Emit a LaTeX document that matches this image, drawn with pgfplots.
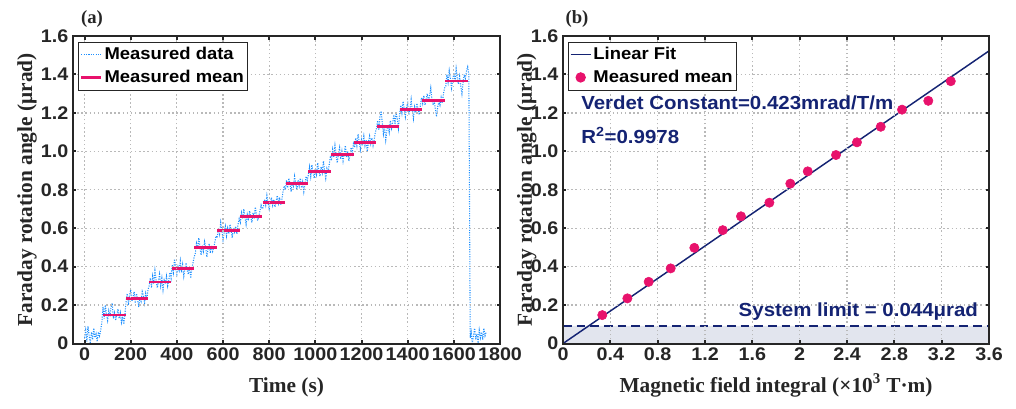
\documentclass[border=0pt]{standalone}
\usepackage{pgfplots}
\pgfplotsset{compat=1.18}
\usepackage{fontspec}
\setmainfont{Liberation Serif}
\newfontfamily\arial[FakeStretch=1.08]{Liberation Sans}

\definecolor{axgray}{RGB}{38,38,38}
\definecolor{gridgray}{RGB}{185,185,185}
\definecolor{datablue}{RGB}{30,144,255}
\definecolor{meanpink}{RGB}{232,18,108}
\definecolor{navy}{RGB}{20,35,115}
\definecolor{shade}{RGB}{226,229,238}

\pgfplotsset{
  panel/.style={
    scale only axis, width=320.25pt, height=230.6pt,
    anchor=south west, axis on top,
    axis line style={axgray, line width=1.5pt},
    tick style={axgray, line width=1.5pt},
    major tick length=2.6pt, tick align=inside,
    grid=major,
    major grid style={gridgray, line width=0.9pt, dash pattern=on 1.1pt off 2pt},
    tick label style={font=\arial\bfseries\fontsize{13.7}{14}\selectfont, text=axgray},
    label style={font=\bfseries\fontsize{16}{18}\selectfont, text=axgray},
    ymin=0, ymax=1.6,
    ytick={0,0.2,0.4,0.6,0.8,1.0,1.2,1.4,1.6},
    yticklabels={0,0.2,0.4,0.6,0.8,1.0,1.2,1.4,1.6},
    ylabel={Faraday rotation angle (μrad)},
    legend cell align=left,
    legend image code/.code={\draw[mark repeat=2,mark phase=2,##1] plot coordinates {(0pt,0pt) (7.5pt,0pt) (15pt,0pt)};},
    legend style={at={(0.012,0.982)}, anchor=north west, draw=axgray, line width=0.75pt,
      font=\arial\bfseries\fontsize{12.8}{13}\selectfont, inner xsep=1pt, inner ysep=1pt,
      nodes={inner xsep=1.5pt, inner ysep=2.5pt, text height=9.5pt, text depth=2.5pt}},
  }
}

\begin{document}
\begin{tikzpicture}
\useasboundingbox (0pt,0pt) rectangle (762pt,306.75pt);

% (a) measured data over time
\begin{axis}[panel, at={(54.75pt,49.1pt)},
  xmin=-50, xmax=1800,
  xtick={0,200,400,600,800,1000,1200,1400,1600,1800},
  xticklabels={0,200,400,600,800,1000,1200,1400,1600,1800},
  xlabel={Time (s)},
  xlabel style={at={(axis description cs:0.5,-0.158)}, anchor=base},
  ylabel style={at={(axis description cs:-0.096,0.5)}, anchor=base},
]
\addplot[datablue, line width=0.8pt, densely dotted] coordinates {
(0,0.03)(5,0.07)(10,0.01)(15,0.09)(20,0.04)(25,0.00)(30,0.06)(35,0.02)(40,0.08)(45,0.03)
(50,0.05)(55,0.01)(60,0.06)(65,0.04)(70,0.07)(75,0.11)
(80,0.19)(85,0.13)(90,0.20)(95,0.15)(100,0.12)(105,0.17)(110,0.14)(115,0.19)(120,0.21)(125,0.13)
(130,0.16)(135,0.12)(140,0.15)(145,0.18)(150,0.13)(155,0.16)(160,0.11)(165,0.14)(170,0.10)(175,0.15)
(180,0.22)(185,0.26)(190,0.20)(195,0.25)(200,0.28)(205,0.22)(210,0.24)(215,0.27)(220,0.21)(225,0.26)
(230,0.23)(235,0.19)(240,0.24)(245,0.22)(250,0.27)(255,0.25)(260,0.21)(265,0.26)(270,0.23)(275,0.28)
(280,0.30)(285,0.34)(290,0.29)(295,0.35)(300,0.31)(305,0.38)(310,0.33)(315,0.29)(320,0.32)(325,0.36)
(330,0.30)(335,0.34)(340,0.28)(345,0.33)(350,0.31)(355,0.35)(360,0.30)(365,0.33)(370,0.37)(375,0.34)
(380,0.41)(385,0.37)(390,0.44)(395,0.39)(400,0.36)(405,0.40)(410,0.38)(415,0.43)(420,0.37)(425,0.41)
(430,0.35)(435,0.39)(440,0.42)(445,0.38)(450,0.36)(455,0.40)(460,0.34)(465,0.39)(470,0.42)(475,0.45)
(480,0.47)(485,0.52)(490,0.49)(495,0.55)(500,0.50)(505,0.46)(510,0.51)(515,0.48)(520,0.53)(525,0.50)
(530,0.45)(535,0.49)(540,0.52)(545,0.47)(550,0.51)(555,0.48)(560,0.50)(565,0.53)(570,0.56)
(575,0.55)(580,0.60)(585,0.57)(590,0.63)(595,0.59)(600,0.54)(605,0.58)(610,0.61)(615,0.56)(620,0.60)
(625,0.57)(630,0.62)(635,0.59)(640,0.55)(645,0.60)(650,0.58)(655,0.61)(660,0.57)(665,0.62)(670,0.65)
(675,0.63)(680,0.68)(685,0.65)(690,0.70)(695,0.66)(700,0.62)(705,0.67)(710,0.64)(715,0.69)(720,0.66)
(725,0.63)(730,0.68)(735,0.65)(740,0.71)(745,0.67)(750,0.64)(755,0.66)(760,0.69)(765,0.72)(770,0.70)
(775,0.71)(780,0.75)(785,0.72)(790,0.77)(795,0.73)(800,0.70)(805,0.74)(810,0.76)(815,0.72)(820,0.75)
(825,0.71)(830,0.74)(835,0.77)(840,0.73)(845,0.76)(850,0.72)(855,0.75)(860,0.79)(865,0.82)
(870,0.80)(875,0.85)(880,0.81)(885,0.86)(890,0.83)(895,0.79)(900,0.84)(905,0.82)(910,0.87)(915,0.83)
(920,0.80)(925,0.85)(930,0.82)(935,0.86)(940,0.81)(945,0.84)(950,0.79)(955,0.83)(960,0.87)(965,0.85)
(970,0.88)(975,0.92)(980,0.87)(985,0.93)(990,0.89)(995,0.86)(1000,0.91)(1005,0.88)(1010,0.94)(1015,0.90)
(1020,0.87)(1025,0.92)(1030,0.89)(1035,0.95)(1040,0.90)(1045,0.86)(1050,0.91)(1055,0.89)(1060,0.93)(1065,0.97)
(1070,0.96)(1075,1.01)(1080,0.97)(1085,1.03)(1090,0.98)(1095,0.94)(1100,0.99)(1105,1.02)(1110,0.96)(1115,1.00)
(1120,0.95)(1125,0.99)(1130,1.03)(1135,0.97)(1140,1.00)(1145,0.95)(1150,0.98)(1155,1.02)(1160,0.99)(1165,1.04)
(1170,1.02)(1175,1.07)(1180,1.03)(1185,1.09)(1190,1.05)(1195,1.01)(1200,1.06)(1205,1.04)(1210,1.08)(1215,1.03)
(1220,1.06)(1225,1.00)(1230,1.05)(1235,1.08)(1240,1.04)(1245,1.07)(1250,1.03)(1255,1.06)(1260,1.10)
(1265,1.12)(1270,1.16)(1275,1.11)(1280,1.18)(1285,1.21)(1290,1.15)(1295,1.09)(1300,1.13)(1305,1.06)(1310,1.11)
(1315,1.14)(1320,1.10)(1325,1.16)(1330,1.12)(1335,1.15)(1340,1.19)(1345,1.14)(1350,1.20)(1355,1.17)(1360,1.12)
(1365,1.19)(1370,1.24)(1375,1.20)(1380,1.26)(1385,1.22)(1390,1.18)(1395,1.23)(1400,1.25)(1405,1.19)(1410,1.22)
(1415,1.27)(1420,1.21)(1425,1.17)(1430,1.23)(1435,1.20)(1440,1.25)(1445,1.22)(1450,1.19)(1455,1.24)(1460,1.28)
(1465,1.25)(1470,1.29)(1475,1.24)(1480,1.27)(1485,1.30)(1490,1.26)(1495,1.29)(1500,1.33)(1505,1.27)(1510,1.24)
(1515,1.26)(1520,1.22)(1525,1.18)(1530,1.23)(1535,1.26)(1540,1.24)(1545,1.28)(1550,1.25)(1555,1.30)(1560,1.33)
(1565,1.34)(1570,1.40)(1575,1.36)(1580,1.42)(1585,1.38)(1590,1.33)(1595,1.37)(1600,1.41)(1605,1.36)(1610,1.43)
(1615,1.38)(1620,1.35)(1625,1.39)(1630,1.34)(1635,1.30)(1640,1.36)(1645,1.40)(1650,1.38)(1655,1.42)(1660,1.44)
(1665,1.40)(1671,0.03)(1675,0.06)(1680,0.00)(1685,0.04)(1690,0.08)(1695,0.02)(1700,0.05)(1705,0.01)(1710,0.07)
(1715,0.03)(1720,0.06)(1725,0.02)(1730,0.08)(1735,0.04)(1740,0.06)
};
\addlegendentry{Measured data}
\addplot[meanpink, line width=2pt, unbounded coords=jump] coordinates {
(81,0.148)(179,0.148)(179,nan)
(180,0.235)(277,0.235)(277,nan)
(279,0.321)(375,0.321)(375,nan)
(377,0.389)(474,0.389)(474,nan)
(476,0.498)(573,0.498)(573,nan)
(575,0.588)(672,0.588)(672,nan)
(673,0.662)(770,0.662)(770,nan)
(772,0.733)(868,0.733)(868,nan)
(871,0.832)(968,0.832)(968,nan)
(970,0.896)(1066,0.896)(1066,nan)
(1069,0.983)(1166,0.983)(1166,nan)
(1168,1.047)(1264,1.047)(1264,nan)
(1267,1.130)(1363,1.130)(1363,nan)
(1366,1.217)(1461,1.217)(1461,nan)
(1464,1.263)(1560,1.263)(1560,nan)
(1563,1.367)(1660,1.367)
};
\addlegendentry{Measured mean}
\end{axis}

% (b) angle against field integral
\begin{axis}[panel, at={(422.25pt,49.1pt)}, width=319.5pt,
  xmin=0, xmax=3.6,
  xtick={0,0.4,0.8,1.2,1.6,2,2.4,2.8,3.2,3.6},
  xticklabels={0,0.4,0.8,1.2,1.6,2,2.4,2.8,3.2,3.6},
  xlabel={Magnetic field integral (×10\textsuperscript{3} T·m)},
  xlabel style={at={(axis description cs:0.5,-0.158)}, anchor=base},
  ylabel style={at={(axis description cs:-0.073,0.5)}, anchor=base},
  legend style={at={(0.012,0.982)}},
]
\addplot[fill=shade, draw=none, forget plot] coordinates {(0,0) (3.6,0) (3.6,0.092) (0,0.092)} \closedcycle;
\addplot[navy, line width=1.1pt] coordinates {(0,0) (3.6,1.5228)};
\addlegendentry{Linear Fit}
\addplot[only marks, mark=*, mark size=3.5pt, color=meanpink] coordinates {
(0.332,0.148)(0.544,0.235)(0.724,0.321)(0.910,0.391)(1.110,0.498)(1.350,0.590)
(1.504,0.662)(1.744,0.733)(1.921,0.832)(2.068,0.896)(2.307,0.981)(2.484,1.047)
(2.685,1.128)(2.865,1.217)(3.087,1.263)(3.277,1.365)
};
\addlegendentry{Measured mean}
\addplot[navy, line width=1.5pt, dash pattern=on 6.5pt off 3.75pt, forget plot] coordinates {(0,0.092) (3.6,0.092)};
\end{axis}

\node[anchor=center, inner sep=0, font=\bfseries\fontsize{14}{16}\selectfont, text=axgray] at (69pt,292.5pt) {(a)};
\node[anchor=center, inner sep=0, font=\bfseries\fontsize{14}{16}\selectfont, text=axgray] at (432.75pt,292.5pt) {(b)};
\node[anchor=base west, inner sep=0, font=\arial\bfseries\fontsize{14.2}{16}\selectfont, text=navy] at (435.75pt,224.25pt) {Verdet Constant=0.423mrad/T/m};
\node[anchor=base west, inner sep=0, font=\arial\bfseries\fontsize{14.2}{16}\selectfont, text=navy] at (435.75pt,199.3pt) {R\textsuperscript{2}=0.9978};
\node[anchor=base east, inner sep=0, font=\arial\bfseries\fontsize{14.2}{16}\selectfont, text=navy] at (733.7pt,69.2pt) {System limit = 0.044μrad};
\end{tikzpicture}
\end{document}
